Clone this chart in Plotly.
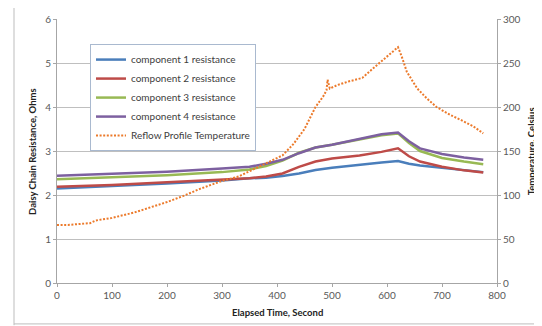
import plotly.graph_objects as go

# ---- data ----
t_res = [0, 100, 200, 300, 350, 380, 410, 440, 470, 500, 550, 590, 620, 640, 660, 700, 740, 775]
comp1 = [2.15, 2.20, 2.26, 2.33, 2.38, 2.39, 2.43, 2.49, 2.57, 2.62, 2.69, 2.74, 2.77, 2.71, 2.67, 2.62, 2.56, 2.52]
comp2 = [2.19, 2.23, 2.29, 2.35, 2.38, 2.42, 2.49, 2.64, 2.76, 2.83, 2.90, 2.98, 3.06, 2.88, 2.76, 2.64, 2.56, 2.51]
comp3 = [2.36, 2.40, 2.45, 2.52, 2.58, 2.66, 2.78, 2.96, 3.08, 3.14, 3.26, 3.36, 3.40, 3.18, 3.00, 2.84, 2.76, 2.70]
comp4 = [2.44, 2.48, 2.53, 2.60, 2.64, 2.71, 2.80, 2.95, 3.08, 3.14, 3.28, 3.38, 3.42, 3.22, 3.06, 2.93, 2.85, 2.80]

t_temp = [0, 20, 40, 60, 70, 100, 140, 170, 200, 230, 260, 300, 330, 350, 380, 410, 430, 450,
          470, 484, 490, 492, 496, 510, 530, 555, 575, 595, 610, 620, 627, 636, 655, 672, 690,
          715, 735, 757, 775]
temp = [66, 66, 67, 68, 71, 74, 80, 86, 92, 99, 107, 116, 121, 127, 136, 145, 158, 175,
        200, 212, 219, 231, 221, 225, 229, 233, 244, 255, 263, 268, 257, 240, 221, 210, 200,
        191, 185, 178, 170]

names = ["component 1 resistance", "component 2 resistance",
         "component 3 resistance", "component 4 resistance"]
colors = ["#4A7EBB", "#BE4B48", "#98B954", "#7D60A0"]

x_title = "Elapsed Time, Second"
y_title = "Daisy Chain Resistance, Ohms"
y2_title = "Temperature, Celsius"

fig = go.Figure()
for nm, ys, c in zip(names, [comp1, comp2, comp3, comp4], colors):
    fig.add_trace(go.Scatter(x=t_res, y=ys, name=nm, mode="lines",
                             line=dict(color=c, width=2.5)))
fig.add_trace(go.Scatter(x=t_temp, y=temp, name="Reflow Profile Temperature",
                         mode="lines", yaxis="y2",
                         line=dict(color="#EC7A2B", width=2.0, dash="2px,1.6px")))

tickfont = dict(family="Lato, Carlito, Arial", size=10, color="#595959")
titlefont = dict(family="Lato, Arial", size=9.5, color="#222222")

axis_common = dict(showline=True, linecolor="#A6A6A6", linewidth=1,
                   ticks="outside", ticklen=3, tickcolor="#A6A6A6",
                   tickfont=tickfont, zeroline=False, automargin=False)

frame = dict(color="#BDBDBD", width=1)

# page has an 8px body margin, so the figure is sized/offset to compensate
fig.update_layout(
    width=534, height=318,
    margin=dict(l=49, r=45, t=11, b=43, autoexpand=False),
    paper_bgcolor="white", plot_bgcolor="white",
    showlegend=True,
    legend=dict(x=0.075, y=0.905, xanchor="left", yanchor="top",
                bgcolor="white", bordercolor="#A9B9CF", borderwidth=1,
                font=dict(family="Lato, Arial", size=10, color="#404040"),
                tracegroupgap=0),
    xaxis=dict(range=[0, 800], dtick=100, showgrid=False, **axis_common),
    yaxis=dict(range=[0, 6], dtick=1, showgrid=True, gridcolor="#BFBFBF", gridwidth=1,
               **axis_common),
    yaxis2=dict(range=[0, 300], dtick=50, overlaying="y", side="right",
                showgrid=False, **axis_common),
    annotations=[
        dict(text="<b>%s</b>" % x_title, xref="paper", yref="paper", x=0.5, y=-0.113,
             xanchor="center", yanchor="middle", showarrow=False, font=titlefont),
        dict(text="<b>%s</b>" % y_title, xref="paper", yref="paper", x=-0.057, y=0.5,
             xanchor="center", yanchor="middle", showarrow=False, textangle=-90, font=titlefont),
        dict(text="<b>%s</b>" % y2_title, xref="paper", yref="paper", x=1.078, y=0.5,
             xanchor="center", yanchor="middle", showarrow=False, textangle=-90, font=titlefont),
    ],
    shapes=[
        dict(type="line", xref="paper", yref="paper", x0=-0.0977, x1=-0.0977,
             y0=-0.16, y1=1.045, line=frame),
        dict(type="line", xref="paper", yref="paper", x0=-0.0977, x1=1.2,
             y0=1.045, y1=1.045, line=frame),
        dict(type="line", xref="paper", yref="paper", x0=-0.0977, x1=1.2,
             y0=-0.155, y1=-0.155, line=frame),
    ],
)

fig.write_html("out.html")
